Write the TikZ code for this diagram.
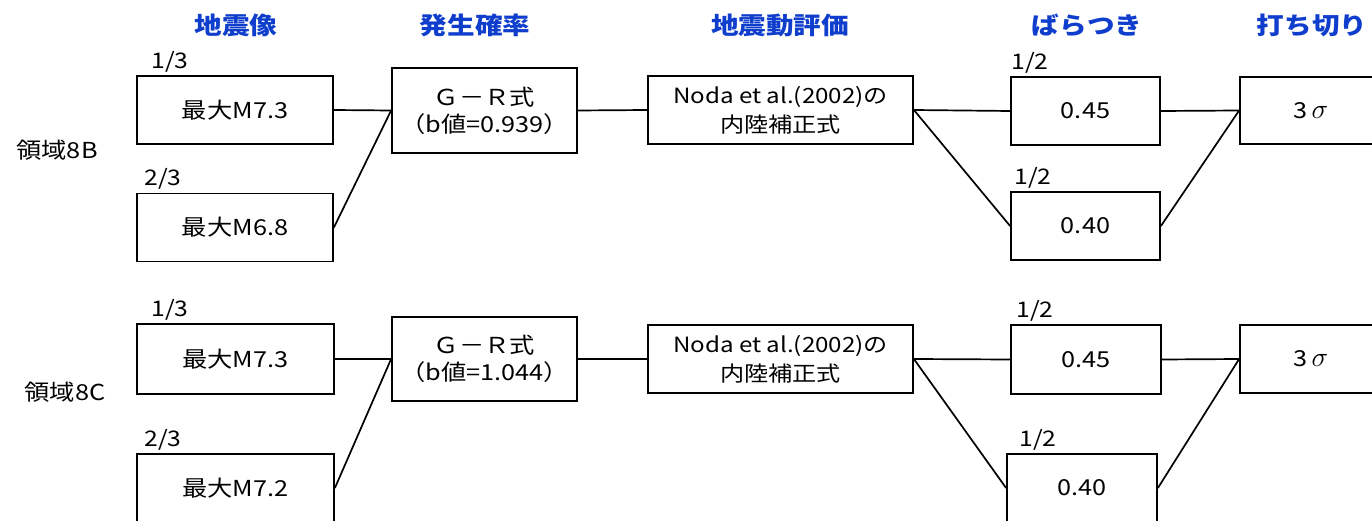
\documentclass[tikz,border=0pt]{standalone}
\usepackage{fontspec}
\setmainfont{Noto Sans CJK JP}[FakeStretch=1.15]
\usetikzlibrary{positioning}
\definecolor{hdrblue}{RGB}{16,62,204}
\newcommand{\sig}{3\,\scalebox{1.35}{$\sigma$}}

\begin{document}
\begin{tikzpicture}[x=1pt,y=-1pt,
    cell/.style={draw,line width=1.8pt,align=center,inner sep=0pt,minimum height=68pt,font=\fontsize{22}{27}\selectfont},
    hdr/.style={text=hdrblue,font=\fontsize{24}{28}\selectfont\bfseries},
    prob/.style={inner sep=1pt,font=\fontsize{21.5}{24}\selectfont},
    region/.style={font=\fontsize{22}{25}\selectfont},
    link/.style={line width=1.7pt}]
    \useasboundingbox (0,0) rectangle (1372,521);
    \clip (0,0) rectangle (1372,521);
    % column headings
    \node[hdr] (h1) at (236,25) {地震像};
    \node[hdr] (h2) at (475,25) {発生確率};
    \node[hdr] (h3) at (780,25) {地震動評価};
    \node[hdr] (h4) at (1087,25) {ばらつき};
    \node[hdr] (h5) at (1312,25) {打ち切り};
    % region 8B
    \node[region] (r1) at (57,150) {領域8B};
    \node[cell,minimum width=196pt] (a1) at (235,110) {最大M7.3};
    \node[cell,minimum width=196pt] (a2) at (235,227.5) {最大M6.8};
    \node[cell,minimum width=185pt,minimum height=85pt] (g1) at (484.5,110.5) {Ｇ－Ｒ式\\（b値=0.939）};
    \node[cell,minimum width=265pt,font=\fontsize{21}{29}\selectfont] (n1) at (780.5,110) {Noda et al.(2002)の\\内陸補正式};
    \node[cell,minimum width=149pt] (v1) at (1085.5,111) {0.45};
    \node[cell,minimum width=149pt] (v2) at (1085.5,226) {0.40};
    \node[cell,minimum width=142pt,minimum height=67pt] (c1) at (1311,110.5) {\sig};
    \node[prob,above right=2pt and 14pt of a1.north west] (p1) {1/3};
    \node[prob,above right=2pt and 7pt of a2.north west] (p2) {2/3};
    \node[prob,above right=2pt and 0pt of v1.north west] (p3) {1/2};
    \node[prob,above right=2pt and 3pt of v2.north west] (p4) {1/2};
    \draw[link] (a1.east) -- (g1.west);
    \draw[link] (a2.east) -- (g1.west);
    \draw[link] (g1.east) -- (n1.west);
    \draw[link] (n1.east) -- (v1.west);
    \draw[link] (n1.east) -- (v2.west);
    \draw[link] (v1.east) -- (c1.west);
    \draw[link] (v2.east) -- (c1.west);
    % region 8C
    \node[region] (r2) at (65,392) {領域8C};
    \node[cell,minimum width=197pt,minimum height=70pt] (b1) at (235.5,359) {最大M7.3};
    \node[cell,minimum width=197pt] (b2) at (235.5,488) {最大M7.2};
    \node[cell,minimum width=185pt,minimum height=84pt] (g2) at (484.5,359) {Ｇ－Ｒ式\\（b値=1.044）};
    \node[cell,minimum width=265pt,font=\fontsize{21}{29}\selectfont] (n2) at (780.5,359) {Noda et al.(2002)の\\内陸補正式};
    \node[cell,minimum width=150pt,minimum height=69pt] (w1) at (1086,359.5) {0.45};
    \node[cell,minimum width=150pt] (w2) at (1082,488) {0.40};
    \node[cell,minimum width=142pt] (c2) at (1311,359) {\sig};
    \node[prob,above right=2pt and 14pt of b1.north west] (q1) {1/3};
    \node[prob,above right=2pt and 7pt of b2.north west] (q2) {2/3};
    \node[prob,above right=2pt and 5pt of w1.north west] (q3) {1/2};
    \node[prob,above right=2pt and 12pt of w2.north west] (q4) {1/2};
    \draw[link] (b1.east) -- (g2.west);
    \draw[link] (b2.east) -- (g2.west);
    \draw[link] (g2.east) -- (n2.west);
    \draw[link] (n2.east) -- (w1.west);
    \draw[link] (n2.east) -- (w2.west);
    \draw[link] (w1.east) -- (c2.west);
    \draw[link] (w2.east) -- (c2.west);
  \end{tikzpicture}
\end{document}
